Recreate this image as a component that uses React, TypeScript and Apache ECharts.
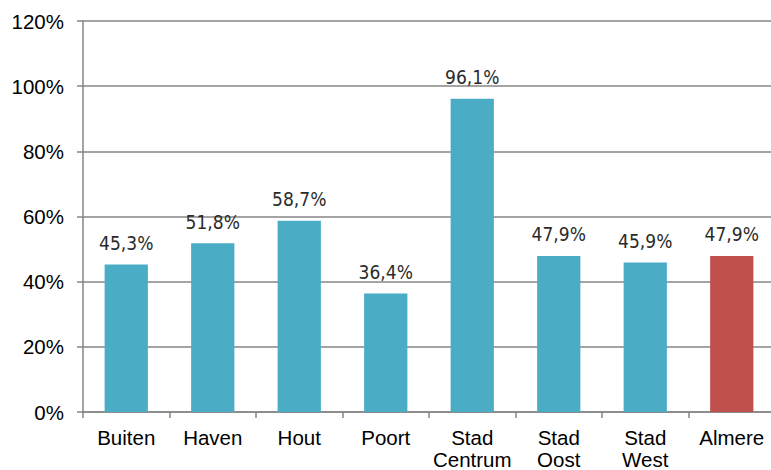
import React, { useEffect, useRef } from "react";
import * as echarts from "echarts";

const categories = ["Buiten", "Haven", "Hout", "Poort", "Stad\nCentrum", "Stad\nOost", "Stad\nWest", "Almere"];
const values = [45.3, 51.8, 58.7, 36.4, 96.1, 47.9, 45.9, 47.9];
const barColors = ["#4BACC6", "#4BACC6", "#4BACC6", "#4BACC6", "#4BACC6", "#4BACC6", "#4BACC6", "#C0504D"];
const yTicks = [0, 20, 40, 60, 80, 100, 120];

export default function App() {
  const ref = useRef<HTMLDivElement>(null);
  useEffect(() => {
    if (!ref.current) return;
    const chart = echarts.init(ref.current, null, { renderer: "svg" });
    const gridColor = "#868686";
    chart.setOption({
      animation: false,
      backgroundColor: "#ffffff",
      grid: { left: 83, top: 21, bottom: 58, width: 692, containLabel: false, outerBoundsMode: "none" },
      xAxis: {
        type: "category",
        data: categories,
        axisLine: { lineStyle: { color: gridColor, width: 1.5 } },
        axisTick: { show: true, alignWithLabel: false, length: 6, lineStyle: { color: gridColor, width: 1.5 } },
        axisLabel: {
          color: "#000",
          fontFamily: "Liberation Sans, Arial, sans-serif",
          fontSize: 20.5,
          lineHeight: 22,
          margin: 14,
          interval: 0,
        },
      },
      yAxis: {
        type: "value",
        min: yTicks[0],
        max: yTicks[yTicks.length - 1],
        interval: 20,
        axisLine: { show: true, lineStyle: { color: gridColor, width: 1.5 } },
        axisTick: { show: true, length: 6, lineStyle: { color: gridColor, width: 1.5 } },
        splitLine: { show: true, lineStyle: { color: gridColor, width: 1.5 } },
        axisLabel: {
          color: "#000",
          fontFamily: "Liberation Sans, Arial, sans-serif",
          fontSize: 20.5,
          margin: 19,
          formatter: (v: number) => v + "%",
        },
      },
      series: [
        {
          type: "bar",
          barWidth: "50%",
          data: values.map((v, i) => ({ value: v, itemStyle: { color: barColors[i] } })),
          label: {
            show: true,
            position: "top",
            distance: 12,
            color: "#2b2b2b",
            fontFamily: "DejaVu Sans Condensed, DejaVu Sans, sans-serif",
            fontSize: 19,
            formatter: (p: any) => p.value.toFixed(1).replace(".", ",") + "%",
          },
        },
      ],
    });
    return () => chart.dispose();
  }, []);
  return <div ref={ref} style={{ position: "fixed", left: 0, top: 0, width: 771, height: 470 }} />;
}
